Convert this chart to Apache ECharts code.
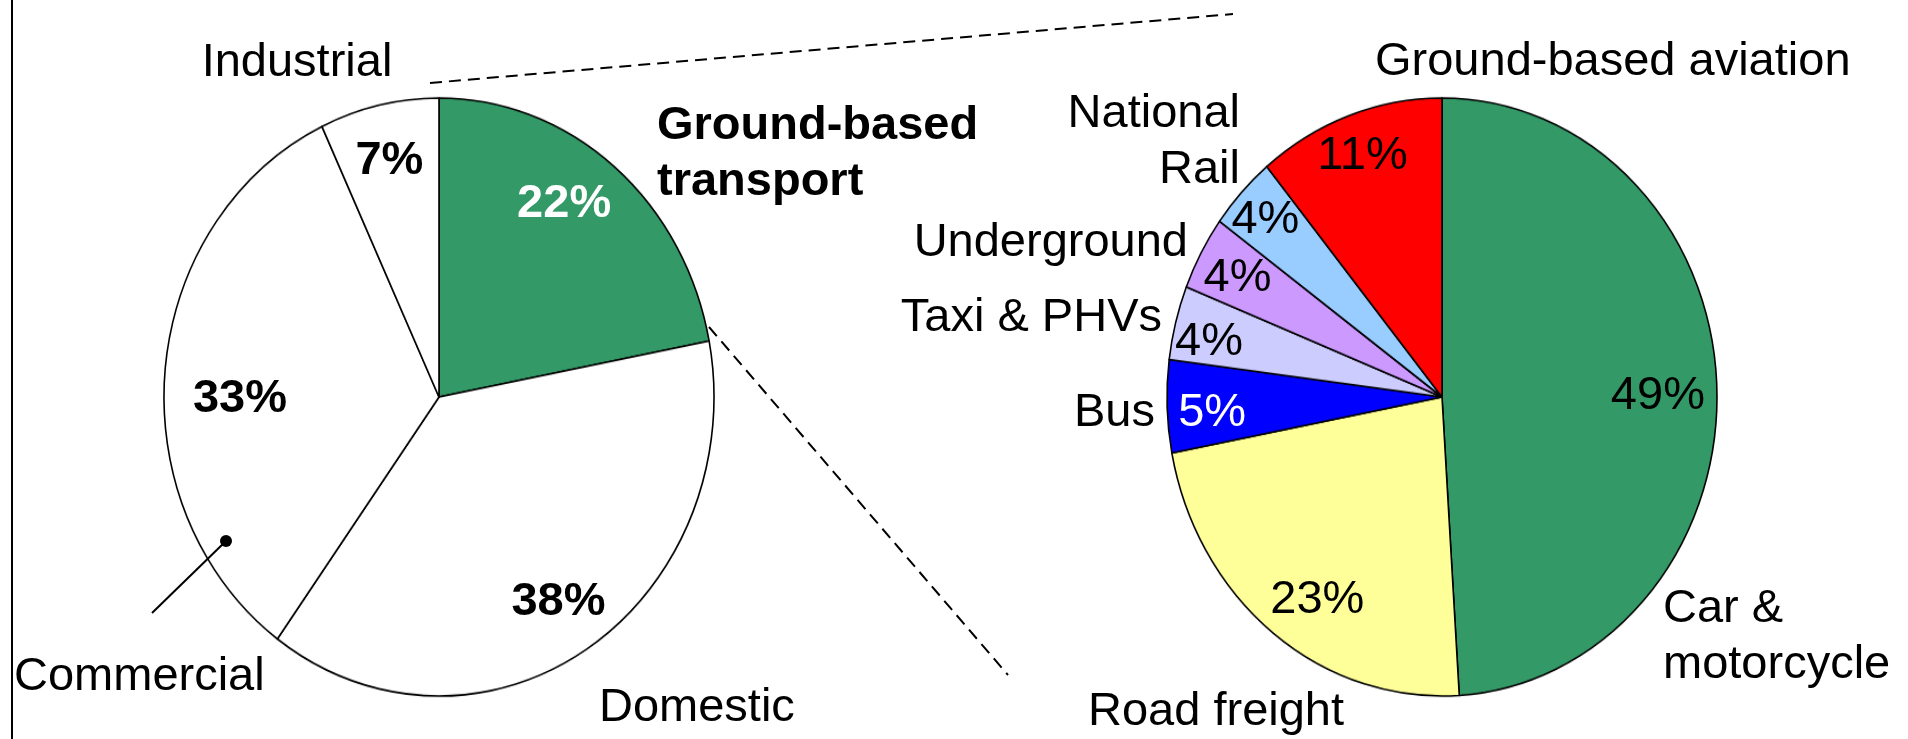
<!DOCTYPE html>
<html>
<head>
<meta charset="utf-8">
<script src="https://cdn.jsdelivr.net/npm/echarts/dist/echarts.min.js"></script>
<style>
  html, body { margin: 0; padding: 0; background: #fff; }
  #wrap { position: relative; width: 1908px; height: 739px; overflow: hidden; }
  #pies, #overlay { position: absolute; left: 0; top: 0; width: 1908px; height: 739px; }
  #pies { transform: scaleY(1.0873); transform-origin: 0 397px; }
</style>
</head>
<body>
<div id="wrap">
  <div id="pies"></div>
  <div id="overlay"></div>
</div>
<script>
// ---------- data ----------
const leftNames = ['Ground-based\ntransport', 'Domestic', 'Commercial', 'Industrial'];
const leftValues = [22, 38, 33, 7];
const rightNames = ['Car &\nmotorcycle', 'Road freight', 'Bus', 'Taxi & PHVs', 'Underground', 'National\nRail', 'Ground-based aviation'];
const rightValues = [49, 23, 5, 4, 4, 4, 11];

// ---------- styles / layout ----------
const leftColors = ['#339966', '#ffffff', '#ffffff', '#ffffff'];
const rightColors = ['#339966', '#ffff99', '#0000ff', '#ccccff', '#cc99ff', '#99ccff', '#ff0000'];
const leftPctColors = ['#ffffff', '#000000', '#000000', '#000000'];
const rightPctColors = ['#000000', '#000000', '#ffffff', '#000000', '#000000', '#000000', '#000000'];
const FONT = "'Liberation Sans', Arial, sans-serif";
const FS = 47;
const CY = 397;
const RX = 275;
const K = 1.0873;               // vertical stretch of the ellipses
const LC = [439, CY], RC = [1442, CY];

// nudges for the percentage labels [dx, dy]
const leftPctNudge = [[-17, -6], [0, 0], [23, 25], [-1, 1]];
const rightPctNudge = [[-7, 7], [12, 11], [-7, 8], [-17, 5], [-9, -2], [-14, -11], [-4, -13]];
// name label anchors [x, y, align]
const leftNamePos = [[657, 154, 'left'], [599, 708, 'left'], [14, 677, 'left'], [297, 63, 'center']];
const rightNamePos = [[1663, 637, 'left'], [1088, 712, 'left'], [1155, 413, 'right'], [1162, 318, 'right'], [1188, 243, 'right'], [1240, 142, 'right'], [1375, 62, 'left']];

function mk(names, values, colors) {
  return names.map((n, i) => ({ name: n, value: values[i], itemStyle: colors ? { color: colors[i] } : undefined }));
}

// ---------- layer A: the pies (stretched to ellipses) ----------
const pies = echarts.init(document.getElementById('pies'));
const pieBase = {
  type: 'pie', radius: RX, startAngle: 90, clockwise: true, silent: true,
  label: { show: false }, labelLine: { show: false },
  itemStyle: { borderColor: '#000', borderWidth: 1.6 },
  emphasis: { disabled: true }
};
pies.setOption({
  animation: false,
  backgroundColor: 'transparent',
  series: [
    Object.assign({}, pieBase, { center: LC, data: mk(leftNames, leftValues, leftColors) }),
    Object.assign({}, pieBase, { center: RC, data: mk(rightNames, rightValues, rightColors) })
  ]
});

// ---------- layer B: labels and annotation lines ----------
const ov = echarts.init(document.getElementById('overlay'));
const clearItem = { color: 'transparent', borderWidth: 0 };

function pctSeries(center, names, values, colors, bold, nudge) {
  return {
    type: 'pie', center: center, radius: [RX * 0.6, RX], startAngle: 90, clockwise: true, silent: true,
    itemStyle: clearItem, emphasis: { disabled: true }, labelLine: { show: false },
    data: mk(names, values).map((d, i) => Object.assign(d, { label: { color: colors[i] } })),
    label: {
      show: true, position: 'inside',
      formatter: p => p.value + '%',
      fontFamily: FONT, fontSize: FS, fontWeight: bold ? 'bold' : 'normal',
      color: '#000'
    },
    labelLayout: function (p) {
      const r = p.labelRect;
      const cy = r.y + r.height / 2;
      const n = nudge[p.dataIndex];
      return { dx: n[0], dy: (cy - center[1]) * (K - 1) + n[1] };
    }
  };
}
function nameSeries(center, names, values, pos, boldIdx) {
  return {
    type: 'pie', center: center, radius: RX, startAngle: 90, clockwise: true, silent: true,
    itemStyle: clearItem, emphasis: { disabled: true }, labelLine: { show: false },
    avoidLabelOverlap: false,
    data: mk(names, values).map((d, i) => Object.assign(d, {
      label: { fontWeight: i === boldIdx ? 'bold' : 'normal', align: pos[i][2] }
    })),
    label: {
      show: true, position: 'outside', formatter: '{b}',
      fontFamily: FONT, fontSize: FS, color: '#000', lineHeight: 56
    },
    labelLayout: function (p) {
      const q = pos[p.dataIndex];
      return { x: q[0], y: q[1], align: q[2], verticalAlign: 'middle' };
    }
  };
}

ov.setOption({
  animation: false,
  backgroundColor: 'transparent',
  series: [
    pctSeries(LC, leftNames, leftValues, leftPctColors, true, leftPctNudge),
    pctSeries(RC, rightNames, rightValues, rightPctColors, false, rightPctNudge),
    nameSeries(LC, leftNames, leftValues, leftNamePos, 0),
    nameSeries(RC, rightNames, rightValues, rightNamePos, -1)
  ],
  graphic: [
    { type: 'line', shape: { x1: 12, y1: 0, x2: 12, y2: 739 }, style: { stroke: '#000', lineWidth: 2 } },
    { type: 'line', shape: { x1: 430, y1: 83, x2: 1233, y2: 14 }, style: { stroke: '#000', lineWidth: 2, lineDash: [12, 7] } },
    { type: 'line', shape: { x1: 709, y1: 327, x2: 1008, y2: 675 }, style: { stroke: '#000', lineWidth: 2, lineDash: [12, 7] } },
    { type: 'line', shape: { x1: 152, y1: 613, x2: 226, y2: 541 }, style: { stroke: '#000', lineWidth: 2 } },
    { type: 'circle', shape: { cx: 226, cy: 541, r: 6 }, style: { fill: '#000' } }
  ]
});
</script>
</body>
</html>
